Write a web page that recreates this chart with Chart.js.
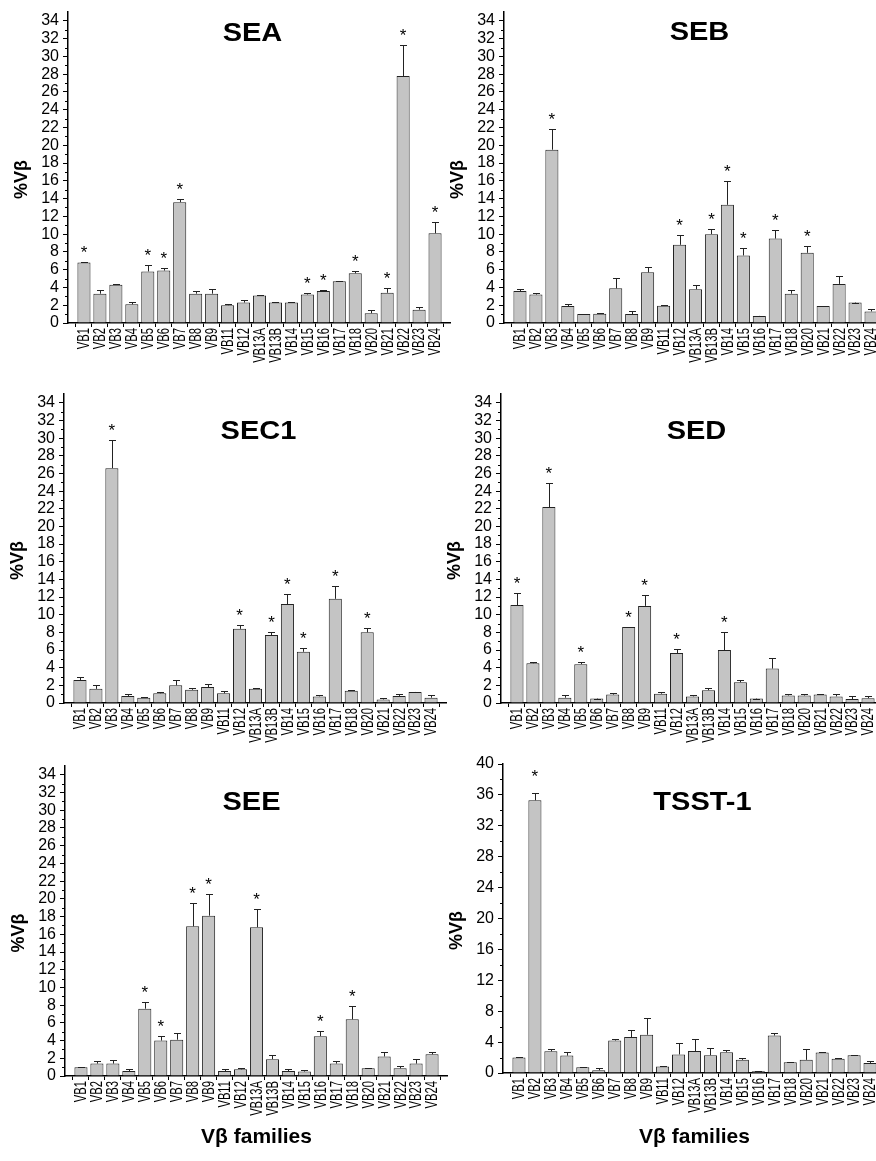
<!DOCTYPE html>
<html>
<head>
<meta charset="utf-8">
<script src="https://cdn.jsdelivr.net/npm/chart.js@4.4.1/dist/chart.umd.min.js"></script>
<style>
  html, body { margin: 0; padding: 0; background: #fff; width: 876px; height: 1161px; overflow: hidden; position: relative; }
  canvas { position: absolute; }
</style>
</head>
<body>
<canvas id="sea"></canvas>
<canvas id="seb"></canvas>
<canvas id="sec1"></canvas>
<canvas id="sed"></canvas>
<canvas id="see"></canvas>
<canvas id="tsst"></canvas>
<script>
// Vβ families (same order in every panel)
const families = ["VB1", "VB2", "VB3", "VB4", "VB5", "VB6", "VB7", "VB8", "VB9", "VB11", "VB12",
  "VB13A", "VB13B", "VB14", "VB15", "VB16", "VB17", "VB18", "VB20", "VB21", "VB22", "VB23", "VB24"];

// SEA
const seaMean = [6.8, 3.3, 4.3, 2.1, 5.8, 5.9, 13.6, 3.3, 3.3, 2.0, 2.3, 3.1, 2.3, 2.3, 3.2, 3.6, 4.7, 5.6, 1.1, 3.4, 27.8, 1.5, 10.1];
const seaErr = [0.05, 0.4, 0.05, 0.3, 0.7, 0.3, 0.3, 0.3, 0.5, 0.15, 0.3, 0.08, 0.05, 0.05, 0.2, 0.08, 0.05, 0.23, 0.38, 0.5, 3.5, 0.34, 1.3];
const seaSig = ["VB1", "VB5", "VB6", "VB7", "VB15", "VB16", "VB18", "VB21", "VB22", "VB24"];

// SEB
const sebMean = [3.6, 3.2, 19.5, 1.9, 1.0, 1.05, 3.9, 1.0, 5.7, 1.95, 8.8, 3.8, 10.0, 13.3, 7.6, 0.8, 9.5, 3.3, 7.9, 1.9, 4.4, 2.3, 1.3];
const sebErr = [0.26, 0.19, 2.3, 0.19, 0.03, 0.08, 1.2, 0.38, 0.6, 0.05, 1.05, 0.53, 0.6, 2.65, 0.87, 0.03, 0.98, 0.38, 0.8, 0, 0.9, 0, 0.3];
const sebSig = ["VB3", "VB12", "VB13B", "VB14", "VB15", "VB17", "VB20"];

// SEC1
const sec1Mean = [2.6, 1.6, 26.6, 0.8, 0.6, 1.1, 2.0, 1.5, 1.8, 1.1, 8.4, 1.6, 7.7, 11.2, 5.8, 0.75, 11.8, 1.4, 8.0, 0.4, 0.8, 1.25, 0.6];
const sec1Err = [0.34, 0.45, 3.2, 0.19, 0.11, 0.15, 0.6, 0.15, 0.38, 0.3, 0.38, 0.08, 0.38, 1.2, 0.38, 0.19, 1.5, 0.05, 0.5, 0.15, 0.23, 0.05, 0.26];
const sec1Sig = ["VB3", "VB12", "VB13B", "VB14", "VB15", "VB17", "VB20"];

// SED
const sedMean = [11.1, 4.5, 22.2, 0.6, 4.4, 0.5, 0.95, 8.6, 11.0, 1.05, 5.65, 0.75, 1.45, 6.0, 2.35, 0.5, 3.9, 0.85, 0.85, 0.95, 0.75, 0.45, 0.55];
const sedErr = [1.36, 0.15, 2.75, 0.26, 0.26, 0, 0.19, 0.05, 1.25, 0.19, 0.45, 0.19, 0.23, 2.0, 0.3, 0, 1.2, 0.19, 0.19, 0.05, 0.3, 0.38, 0.26];
const sedSig = ["VB1", "VB3", "VB5", "VB8", "VB9", "VB12", "VB14"];

// SEE
const seeMean = [0.98, 1.4, 1.4, 0.56, 7.6, 4.0, 4.1, 16.9, 18.1, 0.56, 0.75, 16.8, 1.9, 0.56, 0.5, 4.5, 1.4, 6.4, 0.87, 2.2, 0.87, 1.4, 2.45];
const seeErr = [0.08, 0.26, 0.41, 0.19, 0.72, 0.53, 0.72, 2.6, 2.4, 0.19, 0.11, 2.1, 0.5, 0.19, 0.23, 0.6, 0.34, 1.5, 0.05, 0.53, 0.26, 0.5, 0.26];
const seeSig = ["VB5", "VB6", "VB8", "VB9", "VB13A", "VB16", "VB18"];

// TSST-1
const tsstMean = [2.0, 35.3, 2.8, 2.25, 0.73, 0.35, 4.2, 4.65, 4.95, 0.85, 2.4, 2.85, 2.3, 2.7, 1.7, 0.22, 4.85, 1.4, 1.7, 2.65, 1.85, 2.3, 1.3];
const tsstErr = [0.05, 1.0, 0.3, 0.47, 0.05, 0.3, 0.22, 0.95, 2.15, 0.05, 1.45, 1.6, 1.0, 0.22, 0.22, 0.05, 0.3, 0.05, 1.4, 0.05, 0.05, 0.05, 0.3];
const tsstSig = ["VB2"];

// y axis ticks
const ticks35 = [0, 2, 4, 6, 8, 10, 12, 14, 16, 18, 20, 22, 24, 26, 28, 30, 32, 34];
const minor35 = [1, 3, 5, 7, 9, 11, 13, 15, 17, 19, 21, 23, 25, 27, 29, 31, 33];
const ticks40 = [0, 4, 8, 12, 16, 20, 24, 28, 32, 36, 40];
const minor40 = [2, 6, 10, 14, 18, 22, 26, 30, 34, 38];

const SANS = '"Liberation Sans", Arial, sans-serif';
const Y_AXIS_W = 68;
const PLOT_W = 383;
const PAD_TOP = 12;

// plotLeft / plotTop / plotH: where each panel's plot box sits on the page
const panels = [
  { id: "sea", title: "SEA", mean: seaMean, err: seaErr, sig: seaSig, max: 35, ticks: ticks35, minor: minor35,
    plotLeft: 68, plotTop: 12, plotH: 311, axisH: 60, titleDx: -7, titleDy: 22, starGap: 15, xTitle: false },
  { id: "seb", title: "SEB", mean: sebMean, err: sebErr, sig: sebSig, max: 35, ticks: ticks35, minor: minor35,
    plotLeft: 504, plotTop: 12, plotH: 311, axisH: 60, titleDx: 4, titleDy: 21, starGap: 15, xTitle: false },
  { id: "sec1", title: "SEC1", mean: sec1Mean, err: sec1Err, sig: sec1Sig, max: 35, ticks: ticks35, minor: minor35,
    plotLeft: 64, plotTop: 394, plotH: 309, axisH: 60, titleDx: 3, titleDy: 38, starGap: 15, xTitle: false },
  { id: "sed", title: "SED", mean: sedMean, err: sedErr, sig: sedSig, max: 35, ticks: ticks35, minor: minor35,
    plotLeft: 501, plotTop: 394, plotH: 309, axisH: 60, titleDx: 4, titleDy: 38, starGap: 15, xTitle: false },
  { id: "see", title: "SEE", mean: seeMean, err: seeErr, sig: seeSig, max: 35, ticks: ticks35, minor: minor35,
    plotLeft: 65, plotTop: 766, plotH: 310, axisH: 85, titleDx: -5, titleDy: 37, starGap: 15, xTitle: true },
  { id: "tsst", title: "TSST-1", mean: tsstMean, err: tsstErr, sig: tsstSig, max: 40, ticks: ticks40, minor: minor40,
    plotLeft: 503, plotTop: 764, plotH: 309, axisH: 88, titleDx: 8, titleDy: 39, starGap: 22, xTitle: true }
];

// error bars, asterisks, minor ticks, squeezed category labels, y title and the panel title
const decor = {
  id: "decor",
  afterDatasetsDraw(chart, args, opts) {
    const p = opts.panel;
    const ctx = chart.ctx;
    const meta = chart.getDatasetMeta(0);
    const y = chart.scales.y;
    ctx.save();
    ctx.strokeStyle = "#222";
    ctx.lineWidth = 1;
    ctx.fillStyle = "#000";
    ctx.font = "17px " + SANS;
    ctx.textAlign = "center";
    ctx.textBaseline = "alphabetic";
    p.mean.forEach((v, i) => {
      const bar = meta.data[i + 1];
      const x = Math.round(bar.x) + 0.5;
      const top = Math.round(y.getPixelForValue(v + p.err[i])) + 0.5;
      ctx.beginPath();
      ctx.moveTo(x, bar.y);
      ctx.lineTo(x, top);
      ctx.moveTo(x - 3.5, top);
      ctx.lineTo(x + 3.5, top);
      ctx.stroke();
      if (p.sig.includes(families[i])) {
        ctx.fillText("*", bar.x, top - p.starGap + 10);
      }
    });
    ctx.restore();
  },
  afterDraw(chart, args, opts) {
    const p = opts.panel;
    const ctx = chart.ctx;
    const x = chart.scales.x;
    const y = chart.scales.y;
    const area = chart.chartArea;
    ctx.save();
    ctx.strokeStyle = "#000";
    ctx.lineWidth = 1;
    ctx.beginPath();
    p.minor.forEach(v => {
      const py = Math.round(y.getPixelForValue(v)) + 0.5;
      ctx.moveTo(area.left - 3, py);
      ctx.lineTo(area.left, py);
    });
    ctx.stroke();

    // category labels: rotated, squeezed along their length like the original
    ctx.fillStyle = "#000";
    ctx.font = "16px " + SANS;
    ctx.textAlign = "right";
    ctx.textBaseline = "middle";
    families.forEach((name, i) => {
      ctx.save();
      ctx.translate(x.getPixelForTick(i + 1) + 1, area.bottom + 5);
      ctx.rotate(-Math.PI / 2);
      ctx.scale(0.7, 1);
      ctx.fillText(name, 0, 0);
      ctx.restore();
    });

    ctx.save();
    ctx.textAlign = "center";
    ctx.translate((area.left + area.right) / 2 + p.titleDx, area.top + p.titleDy);
    ctx.scale(1, 0.88);
    ctx.font = "bold 29px " + SANS;
    ctx.fillText(p.title, 0, 0);
    ctx.restore();

    // y axis title, a little below the plot's middle as in the original
    ctx.textAlign = "center";
    ctx.translate(area.left - 46, (area.top + area.bottom) / 2 + 12);
    ctx.rotate(-Math.PI / 2);
    ctx.font = "bold 18px " + SANS;
    ctx.fillText("%Vβ", 0, 0);
    ctx.restore();
  }
};

panels.forEach(p => {
  const canvas = document.getElementById(p.id);
  canvas.width = Y_AXIS_W + PLOT_W;
  canvas.height = PAD_TOP + p.plotH + p.axisH;
  canvas.style.left = (p.plotLeft - Y_AXIS_W) + "px";
  canvas.style.top = (p.plotTop - PAD_TOP) + "px";

  new Chart(canvas, {
    type: "bar",
    data: {
      labels: ["", ...families, ""],
      datasets: [{
        data: [null, ...p.mean, null],
        backgroundColor: "#c4c4c4",
        borderColor: "#222",
        borderWidth: 1,
        barPercentage: 0.82,
        categoryPercentage: 1
      }]
    },
    options: {
      responsive: false,
      animation: false,
      events: [],
      layout: { autoPadding: false, padding: { top: PAD_TOP, left: 0, right: 0, bottom: 0 } },
      plugins: {
        legend: { display: false },
        tooltip: { enabled: false },
        decor: { panel: p }
      },
      scales: {
        x: {
          type: "category",
          offset: false,
          grid: { drawOnChartArea: false, offset: true, tickLength: 4, color: "#000", lineWidth: 1 },
          border: { color: "#000", width: 1.5 },
          ticks: { display: false, autoSkip: false },
          title: {
            display: p.xTitle, text: "Vβ families", color: "#000",
            font: { family: SANS, size: 21, weight: "bold" },
            padding: { top: 0, bottom: 11 }
          },
          afterFit(scale) {
            scale.height = p.axisH;
            scale.paddingLeft = 0;
            scale.paddingRight = 0;
          }
        },
        y: {
          min: 0,
          max: p.max,
          afterBuildTicks(scale) {
            scale.ticks = p.ticks.map(v => ({ value: v }));
          },
          grid: { drawOnChartArea: false, tickLength: 5, color: "#000", lineWidth: 1 },
          border: { color: "#000", width: 1.5 },
          ticks: { autoSkip: false, padding: 4, color: "#000", font: { family: SANS, size: 16 } },
          afterFit(scale) {
            scale.width = Y_AXIS_W;
            scale.paddingTop = 0;
            scale.paddingBottom = 0;
          }
        }
      }
    },
    plugins: [decor]
  });
});
</script>
</body>
</html>
